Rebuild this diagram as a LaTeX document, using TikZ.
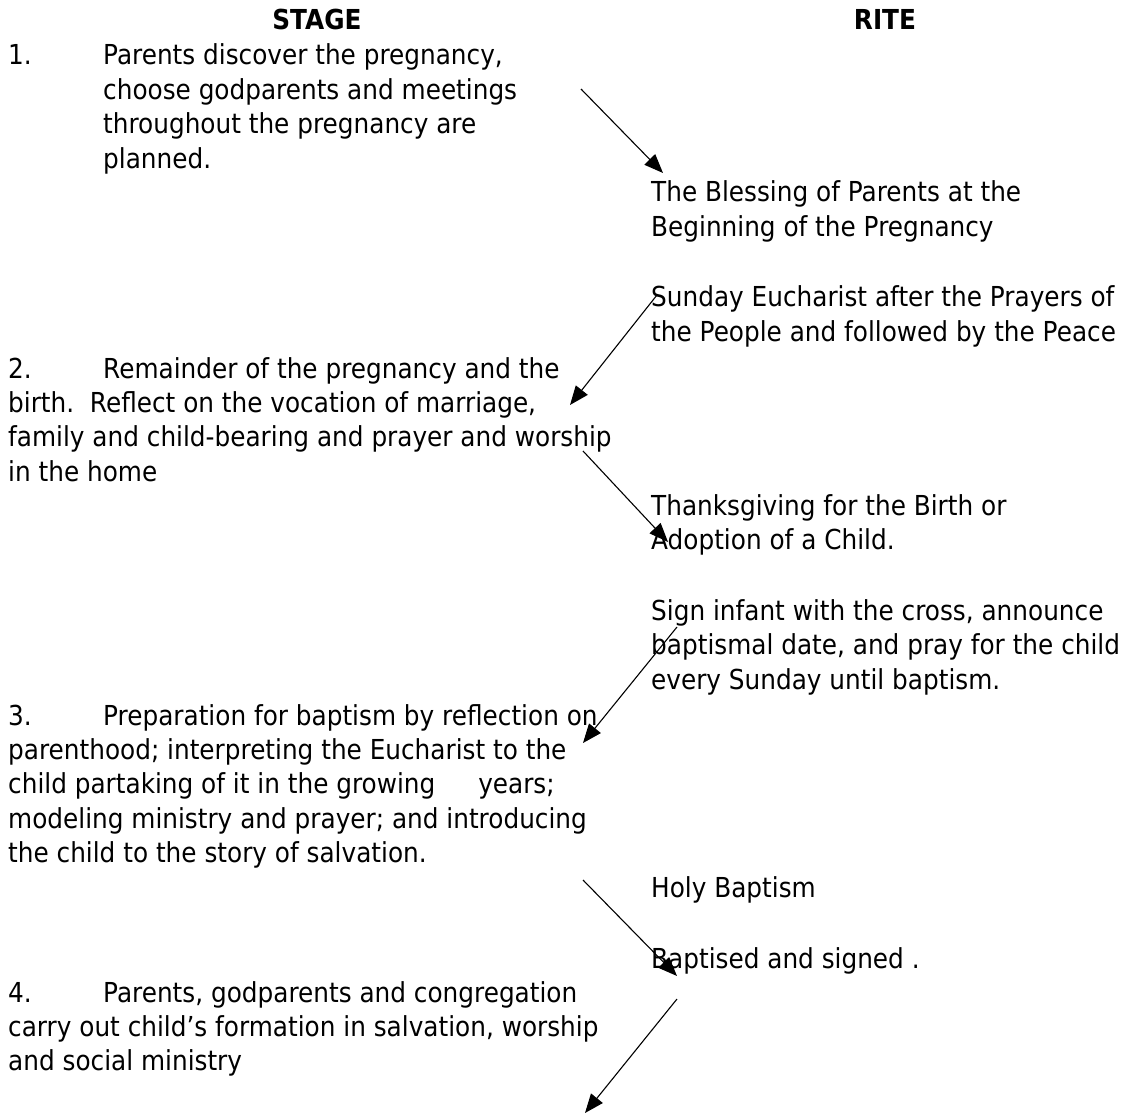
\documentclass[tikz,border=0pt]{standalone}
\usepackage{fontspec}
\setmainfont{DejaVu Sans}[FakeStretch=0.90]
\usetikzlibrary{arrows.meta}
\begin{document}
\begin{tikzpicture}[x=1pt,y=-1pt,
  txt/.style={anchor=base west,inner sep=0pt,font=\fontsize{27.5}{34.4}\selectfont},
  hdr/.style={anchor=base,inner sep=0pt,font=\fontsize{27.5}{34.4}\selectfont\bfseries},
  arr/.style={line width=1.1pt,-{Triangle[length=19pt,width=15pt]}}]
\useasboundingbox (0,0) rectangle (1135,1115);
\fill[white] (0,0) rectangle (1135,1115);
% headers
\node[hdr] (hstage) at (317,30) {STAGE};
\node[hdr] (hrite) at (885,30) {RITE};
% stage 1
\node[txt] (s1a) at (8,65) {\makebox[95pt][l]{1.}Parents discover the pregnancy,};
\node[txt] (s1b) at (103,99.4) {choose godparents and meetings};
\node[txt] (s1c) at (103,133.8) {throughout the pregnancy are};
\node[txt] (s1d) at (103,168.2) {planned.};
% stage 2
\node[txt] (s2a) at (8,378) {\makebox[95pt][l]{2.}Remainder of the pregnancy and the};
\node[txt] (s2b) at (8,412.4) {birth.~~Reflect on the vocation of marriage,};
\node[txt] (s2c) at (8,446.8) {family and child-bearing and prayer and worship};
\node[txt] (s2d) at (8,481.2) {in the home};
% stage 3
\node[txt] (s3a) at (8,725) {\makebox[95pt][l]{3.}Preparation for baptism by reflection on};
\node[txt] (s3b) at (8,759.4) {parenthood; interpreting the Eucharist to the};
\node[txt] (s3c) at (8,793.8) {\makebox[470pt][l]{child partaking of it in the growing}years;};
\node[txt] (s3d) at (8,828.2) {modeling ministry and prayer; and introducing};
\node[txt] (s3e) at (8,862.6) {the child to the story of salvation.};
% stage 4
\node[txt] (s4a) at (8,1002) {\makebox[95pt][l]{4.}Parents, godparents and congregation};
\node[txt] (s4b) at (8,1036.4) {carry out child’s formation in salvation, worship};
\node[txt] (s4c) at (8,1070.8) {and social ministry};
% rites
\node[txt] (r1a) at (651,202) {The Blessing of Parents at the};
\node[txt] (r1b) at (651,236.5) {Beginning of the Pregnancy};
\node[txt] (r2a) at (651,307) {Sunday Eucharist after the Prayers of};
\node[txt] (r2b) at (651,341.5) {the People and followed by the Peace};
\node[txt] (r3a) at (651,515) {Thanksgiving for the Birth or};
\node[txt] (r3b) at (651,549.5) {Adoption of a Child.};
\node[txt] (r4a) at (651,620) {Sign infant with the cross, announce};
\node[txt] (r4b) at (651,654.5) {baptismal date, and pray for the child};
\node[txt] (r4c) at (651,689) {every Sunday until baptism.};
\node[txt] (r5a) at (651,897) {Holy Baptism};
\node[txt] (r5b) at (651,968) {Baptised and signed .};
% arrow end points
\coordinate (a1s) at (581,89);  \coordinate (a1e) at (663,173);
\coordinate (a2s) at (657,295); \coordinate (a2e) at (570,405);
\coordinate (a3s) at (583,451); \coordinate (a3e) at (668,542);
\coordinate (a4s) at (677,627); \coordinate (a4e) at (583,743);
\coordinate (a5s) at (583,880); \coordinate (a5e) at (677,976);
\coordinate (a6s) at (677,999); \coordinate (a6e) at (585,1113);
\draw[arr] (a1s) -- (a1e);
\draw[arr] (a2s) -- (a2e);
\draw[arr] (a3s) -- (a3e);
\draw[arr] (a4s) -- (a4e);
\draw[arr] (a5s) -- (a5e);
\draw[arr] (a6s) -- (a6e);
\end{tikzpicture}
\end{document}
